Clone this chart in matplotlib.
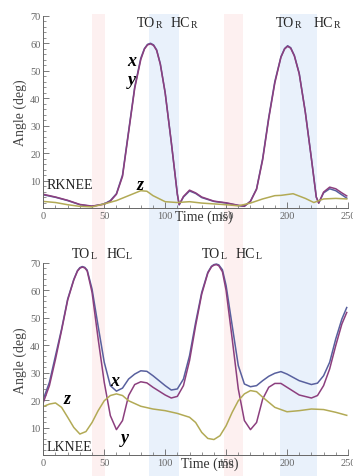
import matplotlib.pyplot as plt
from matplotlib.ticker import MultipleLocator

plt.rcParams['font.family'] = ['Liberation Serif', 'DejaVu Serif']

# Right knee (top panel)
rk_t_x = [0, 10, 20, 30, 40, 50, 55, 60, 65, 70, 75, 80, 83, 85.5, 88, 90.5, 93, 96, 100, 105, 110, 111.5,
          115, 120, 125, 130, 140, 150, 160, 165, 170, 175, 180, 185, 190, 195, 198, 200.5, 203, 206, 210,
          215, 220, 224, 226, 230, 235, 240, 245, 249]
rk_x = [4.8, 3.9, 2.7, 1.2, 0.6, 1.5, 2.7, 5.2, 12, 28, 44, 54.5, 58, 59.5, 59.9, 59.3, 57.5, 52.5, 42, 24, 5, 1.2,
        4, 6.2, 5.3, 3.8, 2.4, 1.8, 0.9, 0.6, 2.5, 7, 18, 33, 46, 55, 58, 59, 58.3, 55.5, 49,
        35, 18, 4, 1.8, 5.5, 7.0, 6.3, 4.8, 3.6]
rk_y = [5.0, 4.0, 2.8, 1.3, 0.7, 1.4, 2.5, 5.0, 11.5, 27.5, 43.5, 54.0, 57.8, 59.3, 59.7, 59.1, 57.3, 52.3, 41.8, 24, 5, 1.2,
        4.2, 6.5, 5.5, 4.0, 2.5, 1.9, 1.0, 0.7, 2.4, 6.8, 17.5, 32.5, 45.5, 54.8, 57.8, 58.8, 58.1, 55.3, 48.8,
        34.8, 18, 4, 1.8, 5.8, 7.6, 7.0, 5.5, 4.4]
rk_t_z = [0, 10, 20, 30, 40, 50, 60, 70, 80, 85, 90, 100, 110, 120, 130, 140, 150, 160, 170,
          180, 190, 195, 205, 215, 222, 230, 240, 249]
rk_z = [2.4, 2.0, 1.2, 0.6, 0.4, 1.5, 2.7, 4.5, 6.3, 6.1, 4.5, 2.3, 2.0, 2.3, 1.8, 1.5, 1.2, 0.8, 1.8,
        3.3, 4.5, 4.6, 5.2, 3.5, 2.0, 3.3, 3.5, 3.3]

# Left knee (bottom panel)
lk_t = [0, 5, 10, 15, 20, 25, 28, 30, 32, 34, 36, 40, 45, 50, 55, 60, 65, 70, 75, 80, 85, 90, 100, 105,
        110, 115, 120, 125, 130, 135, 138, 140, 142, 144, 147, 150, 155, 160, 165, 170, 175, 180, 185, 190,
        195, 200, 210, 220, 225, 230, 235, 240, 245, 249]
lk_x = [20.5, 26.6, 36.3, 46, 56.9, 64, 67.2, 68.3, 68.7, 68.4, 67.4, 60.5, 47, 33.9, 25.4, 23.4, 24.5, 27.8, 29.6,
        30.8, 30.6, 29, 25.4, 23.8, 24.2, 27.8, 36.3, 48.4, 59.3, 66.6, 68.8, 69.4, 69.6, 69.3, 67.5, 61.8, 47.2,
        32.7, 26, 25, 25.4, 27.2, 28.8, 29.9, 30.5, 29.6, 27.2, 25.8, 26.3, 29, 33.9, 42.4, 49.6, 53.8]
lk_y = [19.3, 25.4, 35, 45.5, 56.5, 63.8, 67.0, 68.1, 68.5, 68.2, 67.1, 59.3, 42.4, 26.6, 14.5, 9.4, 12.7, 21.8, 25.8,
        26.8, 26.4, 24.8, 22, 20.9, 21.5, 25.4, 34.5, 47.2, 58.7, 66.3, 68.6, 69.2, 69.4, 69.0, 66.8, 60, 42.4,
        24.2, 12.7, 9.4, 12, 20.5, 24.8, 26.2, 26.2, 24.8, 22, 20.9, 21.8, 25.4, 31.5, 40, 47.8, 52]
lk_t_z = [0, 5, 10, 15, 20, 25, 30, 35, 40, 45, 50, 55, 60, 65, 70, 80, 90, 100, 110, 120, 125, 130,
          135, 140, 145, 150, 155, 160, 165, 170, 175, 180, 190, 200, 210, 220, 230, 240, 249]
lk_z = [17.8, 18.7, 19.1, 17.5, 13.9, 10.2, 7.8, 8.7, 12, 16.3, 19.9, 21.8, 22.4, 21.8, 19.9, 17.9, 16.9,
        16.3, 15.3, 13.9, 12, 8.4, 6.2, 5.8, 7.2, 10.8, 15.7, 19.9, 22.4, 23.6, 23.2, 21.2, 17.5, 15.9,
        16.3, 16.9, 16.7, 15.7, 14.6]

pink_bands = [(40, 51), (148, 164)]
blue_bands = [(87, 111), (194, 225)]

col_x = '#58609e'
col_y = '#8c3f7e'
col_z = '#b2aa55'
axis_col = '#666666'

fig = plt.figure(figsize=(3.53, 4.77), dpi=100)
ax1 = fig.add_axes([0.1227, 0.5618, 0.863, 0.4036])
ax2 = fig.add_axes([0.1227, 0.0430, 0.863, 0.4036])


def style(ax, band_lo, band_hi):
    for a, b in pink_bands:
        ax.axvspan(a, b, ymin=band_lo, ymax=band_hi, color='#fdf0f0', lw=0, clip_on=False, zorder=0)
    for a, b in blue_bands:
        ax.axvspan(a, b, ymin=band_lo, ymax=band_hi, color='#e9f1fb', lw=0, clip_on=False, zorder=0)
    ax.set_xlim(0, 250)
    ax.set_ylim(0, 70)
    ax.set_yticks([10, 20, 30, 40, 50, 60, 70])
    ax.set_xticks([0, 50, 100, 150, 200, 250])
    ax.xaxis.set_minor_locator(MultipleLocator(10))
    ax.yaxis.set_minor_locator(MultipleLocator(2))
    ax.tick_params(which='both', direction='in', colors=axis_col, labelsize=7.5, pad=2)
    ax.tick_params(which='major', length=4, width=0.6)
    ax.tick_params(which='minor', length=2, width=0.5)
    for s in ['top', 'right']:
        ax.spines[s].set_visible(False)
    for s in ['left', 'bottom']:
        ax.spines[s].set_color(axis_col)
        ax.spines[s].set_linewidth(0.7)
    ax.patch.set_alpha(0)
    ax.set_ylabel('Angle (deg)', fontsize=10, color='#444444', labelpad=2)


style(ax1, -0.17, 1.01)
style(ax2, -0.11, 1.13)

# top panel
ax1.plot(rk_t_x, rk_x, color=col_x, lw=1.1)
ax1.plot(rk_t_x, rk_y, color=col_y, lw=1.1)
ax1.plot(rk_t_z, rk_z, color=col_z, lw=1.1)
ax1.text(132, -0.5, 'Time (ms)', fontsize=10, ha='center', va='top', color='#333333', clip_on=False)
ax1.text(3, 8.7, 'RKNEE', fontsize=10, va='center', ha='left', color='#222222')
ax1.text(72.8, 53.5, 'x', fontsize=13, fontweight='bold', fontstyle='italic', ha='center', va='center')
ax1.text(72.8, 46.9, 'y', fontsize=13, fontweight='bold', fontstyle='italic', ha='center', va='center')
ax1.text(79.3, 8.7, 'z', fontsize=13, fontweight='bold', fontstyle='italic', ha='center', va='center')
for x0, lab, sub in [(77, 'TO', 'R'), (104.5, 'HC', 'R'), (191, 'TO', 'R'), (221.5, 'HC', 'R')]:
    t = ax1.text(x0, 67.6, lab, fontsize=10, ha='left', va='center', color='#222222', clip_on=False)
    ax1.annotate(sub, xy=(1, 0), xycoords=t, xytext=(0.5, 0), textcoords='offset points',
                 fontsize=7, ha='left', va='bottom', color='#222222')

# bottom panel
ax2.plot(lk_t, lk_x, color=col_x, lw=1.1)
ax2.plot(lk_t, lk_y, color=col_y, lw=1.1)
ax2.plot(lk_t_z, lk_z, color=col_z, lw=1.1)
ax2.text(136.5, -0.5, 'Time (ms)', fontsize=10, ha='center', va='top', color='#333333', clip_on=False)
ax2.text(3, 3.1, 'LKNEE', fontsize=10, va='center', ha='left', color='#222222')
ax2.text(58.9, 27.2, 'x', fontsize=13, fontweight='bold', fontstyle='italic', ha='center', va='center')
ax2.text(67, 6.7, 'y', fontsize=13, fontweight='bold', fontstyle='italic', ha='center', va='center')
ax2.text(19.4, 20.9, 'z', fontsize=13, fontweight='bold', fontstyle='italic', ha='center', va='center')
for x0, lab, sub in [(23.7, 'TO', 'L'), (51.5, 'HC', 'L'), (130, 'TO', 'L'), (157.8, 'HC', 'L')]:
    t = ax2.text(x0, 73.5, lab, fontsize=10, ha='left', va='center', color='#222222', clip_on=False)
    ax2.annotate(sub, xy=(1, 0), xycoords=t, xytext=(0.5, 0), textcoords='offset points',
                 fontsize=7, ha='left', va='bottom', color='#222222')

fig.savefig('out.png', dpi=100)
